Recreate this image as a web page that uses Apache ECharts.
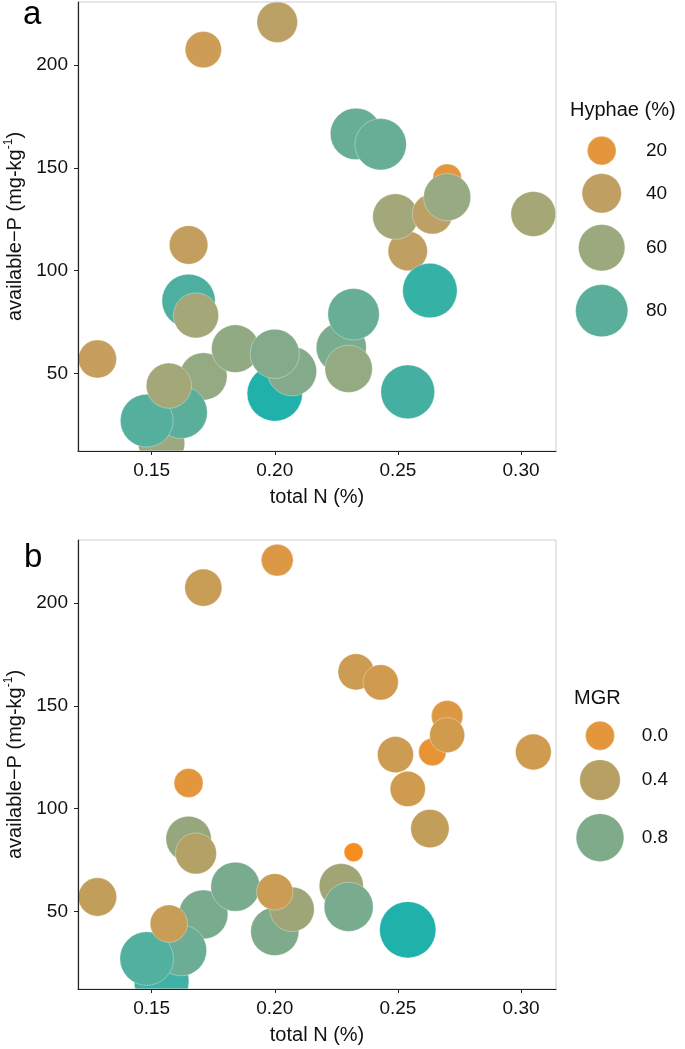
<!DOCTYPE html>
<html>
<head>
<meta charset="utf-8">
<script src="https://cdn.jsdelivr.net/npm/echarts@6/dist/echarts.min.js"></script>
<style>
  html, body { margin: 0; padding: 0; background: #fff; }
  #chart { width: 685px; height: 1049px; }
</style>
</head>
<body>
<div id="chart"></div>
<script>
// ---- data (same samples in both panels; order = drawing order) ----
const totalN = [0.154, 0.171, 0.162, 0.148, 0.157, 0.128, 0.171, 0.201, 0.165, 0.165, 0.168, 0.184, 0.200, 0.207, 0.200, 0.227, 0.230, 0.232, 0.233, 0.243, 0.254, 0.249, 0.263, 0.254, 0.270, 0.264, 0.270, 0.305];
const availableP = [16, 48.5, 31, 27, 44, 57, 207.6, 221, 112.5, 85.3, 78.2, 62, 40.2, 51, 59.5, 62.5, 52.2, 78.8, 166.6, 161.5, 109.6, 126.3, 90.3, 41, 145, 127.6, 135.8, 127.6];
const hyphae = [60, 63, 80, 82, 56, 37, 33, 43, 38, 84, 56, 64, 92, 69, 69, 72, 63, 77, 77, 77, 40, 57, 89, 86, 20, 42, 62, 55];
const mgr = [1.30, 0.88, 1.00, 1.20, 0.26, 0.30, 0.25, 0.07, 0.00, 0.65, 0.42, 0.88, 0.82, 0.60, 0.22, 0.58, 0.88, -0.11, 0.21, 0.18, 0.18, 0.21, 0.30, 1.41, 0.06, -0.03, 0.17, 0.20];

const xTicks = [0.15, 0.20, 0.25, 0.30];
const yTicks = [50, 100, 150, 200];
const hyphaeBreaks = [20, 40, 60, 80];
const mgrBreaks = [0.0, 0.4, 0.8];

// ---- scales (style) ----
const hyLim = [12, 92], hyRange = [16.4, 55.3];
const mgLim = [-0.11, 1.41], mgRange = [19, 56.3];
const hyStops = [[12, '#F68E1F'], [20, '#E3963C'], [40, '#C09F62'], [60, '#9CA97E'], [80, '#5BAE9A'], [92, '#20B2AA']];
const mgStops = [[-0.11, '#F68E1F'], [0.0, '#E3963C'], [0.4, '#B6A064'], [0.8, '#80AB8B'], [1.41, '#20B2AA']];
const FONT = '"Liberation Sans", Arial, sans-serif';
const TXT = '#111111';

function hex2rgb(h){ return [parseInt(h.slice(1,3),16), parseInt(h.slice(3,5),16), parseInt(h.slice(5,7),16)]; }
function toLin(c){ c/=255; return c<=0.04045 ? c/12.92 : Math.pow((c+0.055)/1.055, 2.4); }
function toSrgb(c){ c = c<=0.0031308 ? 12.92*c : 1.055*Math.pow(c,1/2.4)-0.055; return Math.max(0, Math.min(255, Math.round(c*255))); }
function rgb2lab(rgb){
  const [r,g,b] = rgb.map(toLin);
  let X = (0.4124*r+0.3576*g+0.1805*b)/0.95047, Y = (0.2126*r+0.7152*g+0.0722*b), Z = (0.0193*r+0.1192*g+0.9505*b)/1.08883;
  const f = t => t>0.008856 ? Math.cbrt(t) : 7.787*t+16/116;
  const fx=f(X), fy=f(Y), fz=f(Z);
  return [116*fy-16, 500*(fx-fy), 200*(fy-fz)];
}
function lab2rgb(lab){
  const [L,a,bb] = lab;
  const fy=(L+16)/116, fx=fy+a/500, fz=fy-bb/200;
  const fi = t => t*t*t>0.008856 ? t*t*t : (t-16/116)/7.787;
  const X=fi(fx)*0.95047, Y=fi(fy), Z=fi(fz)*1.08883;
  const r= 3.2406*X-1.5372*Y-0.4986*Z, g=-0.9689*X+1.8758*Y+0.0415*Z, b=0.0557*X-0.2040*Y+1.0570*Z;
  return 'rgb(' + [r,g,b].map(toSrgb).join(',') + ')';
}
function colorOf(v, stops){
  if (v <= stops[0][0]) return stops[0][1];
  for (let i = 1; i < stops.length; i++) {
    if (v <= stops[i][0]) {
      const t = (v - stops[i-1][0]) / (stops[i][0] - stops[i-1][0]);
      const a = rgb2lab(hex2rgb(stops[i-1][1])), b = rgb2lab(hex2rgb(stops[i][1]));
      return lab2rgb(a.map((c,k)=> c + (b[k]-c)*t));
    }
  }
  return stops[stops.length-1][1];
}
function sizeOf(v, lim, range){
  const t = Math.max(0, Math.min(1, (v-lim[0])/(lim[1]-lim[0])));
  return range[0] + (range[1]-range[0])*Math.sqrt(t);
}

const dataA = totalN.map((x,i)=>[x, availableP[i], hyphae[i]]);
const dataB = totalN.map((x,i)=>[x, availableP[i], mgr[i]]);

const X_MIN = 0.1201, X_MAX = 0.3142, Y_MIN = 12.2, Y_MAX = 230.8;
const GL = 78, GW = 478, GH = 449;
const gridTops = [2, 540];

function xAxisDef(idx){
  return {
    type: 'value', gridIndex: idx, min: X_MIN, max: X_MAX, z: 10,
    name: 'total N (%)', nameLocation: 'middle', nameGap: 36,
    nameTextStyle: {fontFamily: FONT, fontSize: 20, color: TXT},
    axisLine: {show: true, onZero: false, lineStyle: {color: '#222', width: 1.2}},
    axisTick: {show: true, length: 4, lineStyle: {color: '#222'}, customValues: xTicks},
    axisLabel: {fontFamily: FONT, fontSize: 19, color: TXT, margin: 10, customValues: xTicks,
      formatter: v => v.toFixed(2)},
    splitLine: {show: false}
  };
}
function yAxisDef(idx){
  return {
    type: 'value', gridIndex: idx, min: Y_MIN, max: Y_MAX, z: 10,
    name: '{n|available−P (mg-kg}{s|-1}{n|)}', nameLocation: 'middle', nameGap: 51,
    nameTextStyle: {fontFamily: FONT, color: TXT,
      rich: {n: {fontFamily: FONT, fontSize: 20, color: TXT, lineHeight: 24},
             s: {fontFamily: FONT, fontSize: 12, color: TXT, lineHeight: 12, verticalAlign: 'top'}}},
    axisLine: {show: true, onZero: false, lineStyle: {color: '#222', width: 1.2}},
    axisTick: {show: true, length: 4, lineStyle: {color: '#222'}, customValues: yTicks},
    axisLabel: {fontFamily: FONT, fontSize: 19, color: TXT, margin: 10, customValues: yTicks},
    splitLine: {show: false}
  };
}
function seriesDef(idx, data, lim, range, stops){
  return {
    type: 'scatter', xAxisIndex: idx, yAxisIndex: idx, data: data, z: 2,
    symbol: 'circle',
    symbolSize: val => sizeOf(val[2], lim, range),
    itemStyle: {
      color: p => colorOf(p.data[2], stops),
      borderColor: 'rgba(255,255,255,0.55)', borderWidth: 0.6, opacity: 1
    },
    emphasis: {disabled: true},
    clip: true,
    animation: false
  };
}

// legend keys (built from the same scales)
function legendGraphics(title, titleX, titleY, breaks, ys, cx, labelX, lim, range, stops, fmt){
  const g = [{type: 'text', x: titleX, y: titleY,
    style: {text: title, fontFamily: FONT, fontSize: 20, fill: TXT, verticalAlign: 'middle'}}];
  breaks.forEach((b, i) => {
    const d = sizeOf(b, lim, range);
    g.push({type: 'circle', shape: {cx: cx, cy: ys[i], r: d/2},
      style: {fill: colorOf(b, stops), stroke: 'rgba(255,255,255,0.55)', lineWidth: 0.6}});
    g.push({type: 'text', x: labelX, y: ys[i],
      style: {text: fmt(b), fontFamily: FONT, fontSize: 19, fill: TXT, verticalAlign: 'middle', align: 'left'}});
  });
  return g;
}

// white masks outside each plotting panel so circles are clipped at the panel edge
function masks(top){
  return [
    {type: 'rect', z: 5, silent: true, shape: {x: GL + 1, y: top + GH + 0.6, width: GW + 40, height: 30}, style: {fill: '#fff'}},
    {type: 'rect', z: 5, silent: true, shape: {x: 40, y: top - 30, width: GL - 40 - 0.6, height: GH + 60}, style: {fill: '#fff'}}
  ];
}

const chart = echarts.init(document.getElementById('chart'), null, {renderer: 'canvas'});
const graphics = [
  {type: 'text', x: 23, y: 15, z: 20, style: {text: 'a', fontFamily: FONT, fontSize: 33, fill: '#000', verticalAlign: 'middle'}},
  {type: 'text', x: 24, y: 558, z: 20, style: {text: 'b', fontFamily: FONT, fontSize: 33, fill: '#000', verticalAlign: 'middle'}}
].concat(
  masks(gridTops[0]), masks(gridTops[1]),
  legendGraphics('Hyphae (%)', 570, 110, hyphaeBreaks, [150.7, 193.3, 247.7, 310.7], 601.7, 646, hyLim, hyRange, hyStops, v => String(v)),
  legendGraphics('MGR', 574, 698, mgrBreaks, [735.7, 780, 837.7], 600, 641.7, mgLim, mgRange, mgStops, v => v.toFixed(1))
);

chart.setOption({
  animation: false,
  backgroundColor: '#fff',
  grid: gridTops.map(t => ({left: GL, top: t, width: GW, height: GH, z: 10,
    containLabel: false, outerBoundsMode: 'none',
    show: true, borderColor: '#cfcfcf', borderWidth: 1, backgroundColor: 'transparent'})),
  xAxis: [xAxisDef(0), xAxisDef(1)],
  yAxis: [yAxisDef(0), yAxisDef(1)],
  series: [seriesDef(0, dataA, hyLim, hyRange, hyStops), seriesDef(1, dataB, mgLim, mgRange, mgStops)],
  graphic: graphics
});
</script>
</body>
</html>
